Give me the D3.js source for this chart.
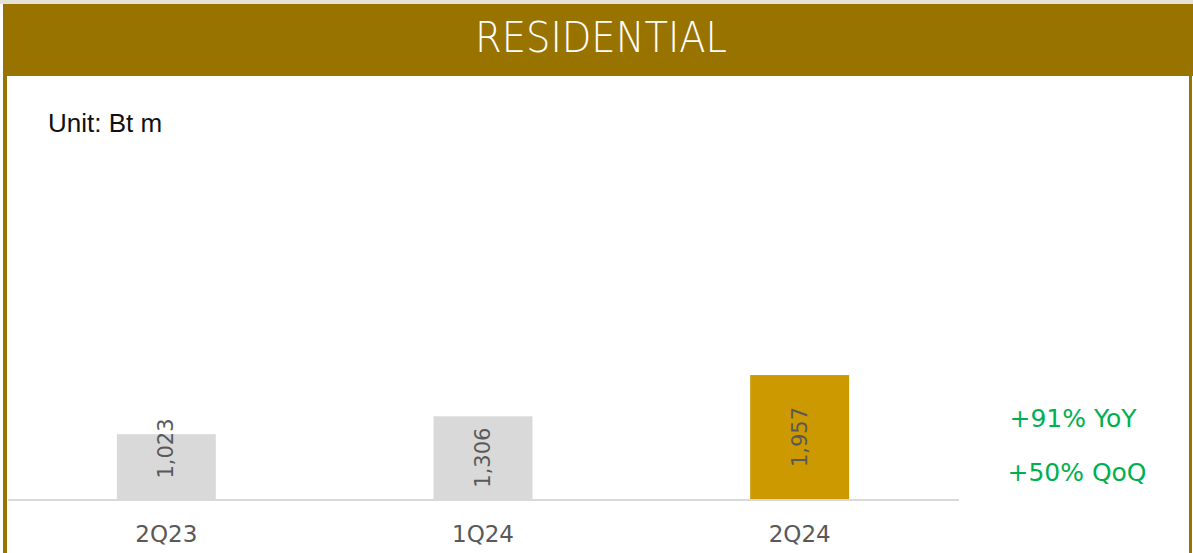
<!DOCTYPE html>
<html>
<head>
<meta charset="utf-8">
<script src="https://cdn.jsdelivr.net/npm/d3@7"></script>
<style>
  html, body { margin: 0; padding: 0; background: #ffffff; }
  svg { display: block; }
</style>
</head>
<body>
<svg id="chart" width="1193" height="553"></svg>
<script>
// Residential revenue by quarter (Bt m)
const categories = ["2Q23", "1Q24", "2Q24"];
const values = [1023, 1306, 1957];
const barColors = ["#d9d9d9", "#d9d9d9", "#cc9900"];
const title = "RESIDENTIAL";
const unitLabel = "Unit: Bt m";
const growthNotes = ["+91% YoY", "+50% QoQ"];

const W = 1193, H = 553;
const gold = "#997300";
const svg = d3.select("#chart");

// faint top strip, frame and header band
svg.append("rect").attr("x", 0).attr("y", 0).attr("width", W).attr("height", 4).attr("fill", "#e6e2d8");
svg.append("rect").attr("x", 3).attr("y", 4).attr("width", W - 3).attr("height", 72).attr("fill", gold);
svg.append("rect").attr("x", 3).attr("y", 76).attr("width", 4).attr("height", H - 76).attr("fill", gold);
svg.append("rect").attr("x", 1189).attr("y", 76).attr("width", 3).attr("height", H - 76).attr("fill", gold);

svg.append("text")
  .attr("x", 601).attr("y", 52)
  .attr("text-anchor", "middle")
  .attr("font-family", "'DejaVu Sans', sans-serif")
  .attr("font-weight", 200)
  .attr("font-size", 43)
  .attr("textLength", 252)
  .attr("lengthAdjust", "spacingAndGlyphs")
  .attr("fill", "#ffffff")
  .text(title);

svg.append("text")
  .attr("x", 48).attr("y", 132)
  .attr("font-family", "'Liberation Sans', Arial, sans-serif")
  .attr("font-size", 26)
  .attr("fill", "#111111")
  .text(unitLabel);

// scales
const baseY = 499;
const x = d3.scaleBand()
  .domain(categories)
  .range([8, 958])
  .paddingInner(0.6875)
  .paddingOuter(0.34375);
const y = d3.scaleLinear()
  .domain([0, 5670])
  .range([baseY, 140]);

// bars
svg.append("g").selectAll("rect")
  .data(values)
  .join("rect")
  .attr("x", (d, i) => x(categories[i]))
  .attr("y", d => y(d))
  .attr("width", x.bandwidth())
  .attr("height", d => y(0) - y(d))
  .attr("fill", (d, i) => barColors[i]);

// baseline
svg.append("line")
  .attr("x1", 8).attr("x2", 959)
  .attr("y1", baseY + 1).attr("y2", baseY + 1)
  .attr("stroke", "#d9d9d9").attr("stroke-width", 2);

// rotated value labels; short bars push the label up past the bar top
const fmt = d3.format(",");
const labelLen = 57;
svg.append("g").selectAll("text")
  .data(values)
  .join("text")
  .attr("transform", (d, i) => {
    const cx = x(categories[i]) + x.bandwidth() / 2;
    const top = y(d), h = y(0) - y(d);
    const cy = h < labelLen + 24 ? y(0) - 22 - labelLen / 2 : top + h / 2;
    return `translate(${cx},${cy}) rotate(-90)`;
  })
  .attr("text-anchor", "middle")
  .attr("dominant-baseline", "central")
  .attr("font-family", "'DejaVu Sans', sans-serif")
  .attr("font-size", 21)
  .attr("fill", "#595959")
  .text(d => fmt(d));

// category axis
const xAxis = svg.append("g")
  .attr("transform", `translate(0,${baseY + 2})`)
  .call(d3.axisBottom(x).tickSize(0).tickPadding(25));
xAxis.select(".domain").remove();
xAxis.selectAll("text")
  .attr("font-family", "'DejaVu Sans', sans-serif")
  .attr("font-size", 23)
  .attr("fill", "#595959");

// growth notes
svg.append("g").selectAll("text")
  .data(growthNotes)
  .join("text")
  .attr("x", (d, i) => i === 0 ? 1073 : 1077)
  .attr("y", (d, i) => 427 + i * 54)
  .attr("text-anchor", "middle")
  .attr("font-family", "'DejaVu Sans', sans-serif")
  .attr("font-size", 25)
  .attr("fill", "#00b050")
  .text(d => d);
</script>
</body>
</html>
